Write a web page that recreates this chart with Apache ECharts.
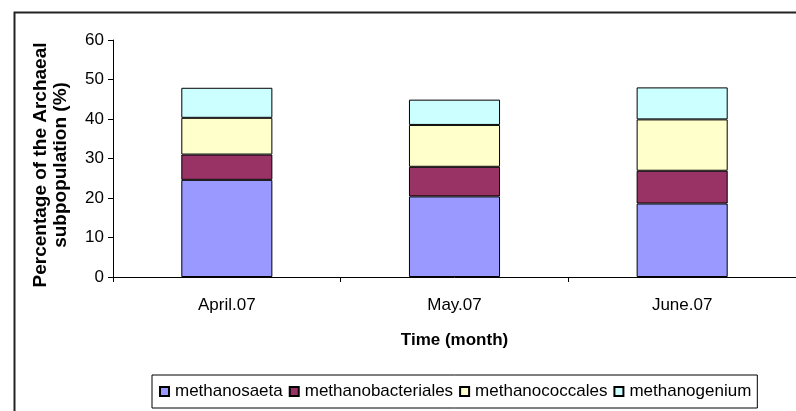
<!DOCTYPE html>
<html><head><meta charset="utf-8">
<script src="https://cdn.jsdelivr.net/npm/echarts@6/dist/echarts.min.js"></script>
<style>html,body{margin:0;padding:0;background:#fff}#c{width:796px;height:411px}</style>
</head><body><div id="c"></div>
<script>
const categories = ['April.07', 'May.07', 'June.07'];
const methanosaeta = [24.6, 20.4, 18.6];
const methanobacteriales = [6.4, 7.5, 8.3];
const methanococcales = [9.3, 10.6, 13.0];
const methanogenium = [7.6, 6.4, 8.1];
const yTicks = [0, 10, 20, 30, 40, 50, 60];

const names = ['methanosaeta', 'methanobacteriales', 'methanococcales', 'methanogenium'];
const colors = ['#9999FF', '#993366', '#FFFFCC', '#CCFFFF'];
const data = [methanosaeta, methanobacteriales, methanococcales, methanogenium];
const FONT = 'Liberation Sans, Arial, sans-serif';

const chart = echarts.init(document.getElementById('c'), null, {renderer: 'canvas'});
chart.setOption({
  animation: false,
  backgroundColor: '#fff',
  textStyle: {fontFamily: FONT},
  graphic: [{
    type: 'rect', left: 12, top: 10,
    shape: {width: 820, height: 440},
    style: {fill: 'none', stroke: '#222', lineWidth: 2},
    z: 100
  }, {
    type: 'text', x: 51, y: 165, rotation: Math.PI / 2,
    style: {
      text: 'Percentage of the Archaeal\nsubpopulation (%)',
      font: 'bold 19px Liberation Sans, Arial, sans-serif',
      fill: '#000', textAlign: 'center', textVerticalAlign: 'middle', lineHeight: 20
    }
  }],
  grid: {left: 113, right: -1, top: 40, bottom: 134, containLabel: false},
  legend: {
    left: 152, top: 375,
    data: names,
    itemWidth: 9, itemHeight: 9, itemGap: 6,
    icon: 'rect',
    borderColor: '#000', borderWidth: 1,
    padding: [8, 6, 8, 7],
    textStyle: {fontFamily: FONT, fontSize: 17, color: '#000', padding: [0, 0, 0, 1]}
  },
  xAxis: {
    type: 'category', data: categories,
    name: 'Time (month)', nameLocation: 'middle', nameGap: 55,
    nameTextStyle: {fontFamily: FONT, fontSize: 17, fontWeight: 'bold', color: '#000'},
    axisLine: {lineStyle: {color: '#000', width: 1}},
    axisTick: {show: true, length: 5, lineStyle: {color: '#000'}},
    axisLabel: {fontFamily: FONT, fontSize: 17, color: '#000', margin: 20}
  },
  yAxis: {
    type: 'value', min: yTicks[0], max: yTicks[yTicks.length - 1], interval: 10,
    axisLine: {show: true, lineStyle: {color: '#000', width: 1}},
    axisTick: {show: true, length: 5, lineStyle: {color: '#000'}},
    splitLine: {show: false},
    axisLabel: {fontFamily: FONT, fontSize: 17, color: '#000', margin: 9}
  },
  series: names.map((n, i) => ({
    name: n, type: 'bar', stack: 'total', data: data[i],
    barWidth: '40%',
    itemStyle: {color: colors[i], borderColor: '#000', borderWidth: 1}
  }))
});
</script></body></html>
